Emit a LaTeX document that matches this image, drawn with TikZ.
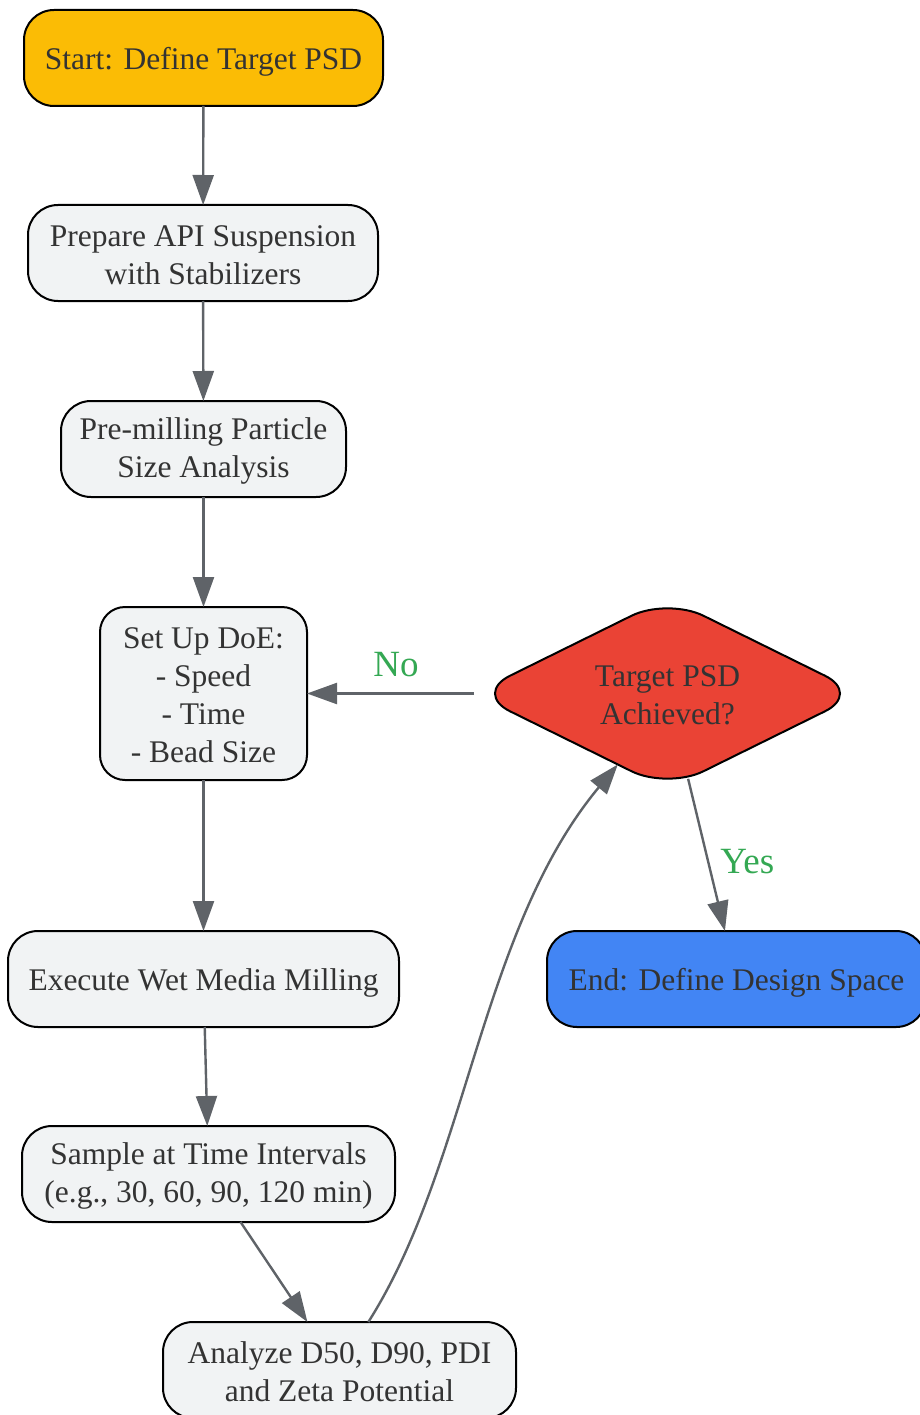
\documentclass[tikz,border=0pt]{standalone}
\usepackage{fontspec}
\setmainfont{Liberation Serif}
\usetikzlibrary{shapes.geometric,arrows.meta,calc}
\definecolor{txt}{HTML}{333333}
\definecolor{boxfill}{HTML}{F1F3F4}
\definecolor{edgec}{HTML}{5F6368}
\definecolor{ystart}{HTML}{FBBC05}
\definecolor{rdec}{HTML}{EA4335}
\definecolor{bend}{HTML}{4285F4}
\definecolor{gyes}{HTML}{34A853}
\newcommand\oneline{\rule{0pt}{30pt}}
\newcommand\twoline{\rule{0pt}{25pt}}
\begin{document}
\begin{tikzpicture}[x=1pt,y=-1pt,
  box/.style={draw=black, line width=2pt, rounded corners=30pt, fill=boxfill, text=txt,
    align=center, inner sep=0pt, outer sep=0pt, font=\fontsize{31.5}{38}\selectfont},
  flow/.style={draw=edgec, line width=2.4pt, -{Triangle[length=30pt,width=21pt]}},
  lbl/.style={text=gyes, font=\fontsize{37}{44}\selectfont}]
\useasboundingbox (0,0) rectangle (919,1415);

\node[box, fill=ystart, minimum width=359pt, minimum height=96pt] (start) at (203.5,58) {\oneline Start: Define Target PSD};
\node[box, minimum width=350pt, minimum height=96pt] (prep) at (203,253) {\twoline Prepare API Suspension\\with Stabilizers};
\node[box, minimum width=285pt, minimum height=96pt] (pre) at (203.5,449) {\twoline Pre-milling Particle\\Size Analysis};
\node[box, rounded corners=25pt, minimum width=207pt, minimum height=173pt] (doe) at (203.5,693.5) {\twoline Set Up DoE:\\- Speed\\- Time\\- Bead Size};
\node[box, minimum width=391pt, minimum height=96pt] (exec) at (203.5,979) {\oneline Execute Wet Media Milling};
\node[box, minimum width=373pt, minimum height=96pt] (samp) at (208.5,1174) {\twoline Sample at Time Intervals\\(e.g., 30, 60, 90, 120 min)};
\node[box, minimum width=353pt, minimum height=96pt] (ana) at (339.5,1370) {\twoline Analyze D50, D90, PDI\\and Zeta Potential};
\node[box, shape=diamond, fill=rdec, rounded corners=40pt, minimum width=387pt, minimum height=191pt, aspect=2] (dec) at (667.5,693.5) {\twoline Target PSD\\Achieved?};
\node[box, fill=bend, minimum width=379pt, minimum height=96pt] (fin) at (736.5,979) {\oneline End: Define Design Space};

\draw[flow] (start) -- (prep);
\draw[flow] (prep) -- (pre);
\draw[flow] (pre) -- (doe);
\draw[flow] (doe) -- (exec);
\draw[flow] (exec) -- (samp);
\draw[flow] (samp) -- (ana);
\draw[flow] (ana.59) .. controls (468,1165) and (480,930) .. (dec.235);
\draw[flow] (dec) -- (doe) node[lbl, midway, yshift=28.5pt, xshift=5.5pt] (no) {No};
\draw[flow] (dec) -- (fin) node[lbl, pos=0.546, xshift=39pt] (yes) {Yes};
\end{tikzpicture}
\end{document}
